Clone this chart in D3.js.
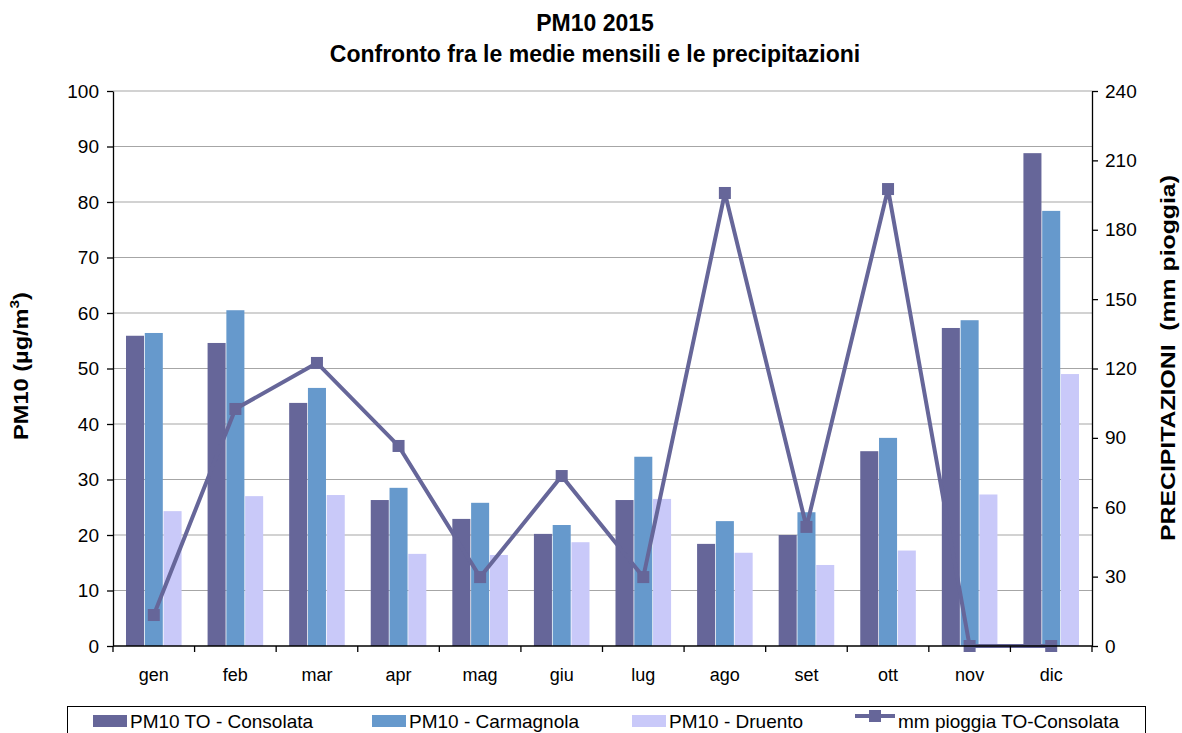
<!DOCTYPE html>
<html>
<head>
<meta charset="utf-8">
<script src="https://cdn.jsdelivr.net/npm/d3@7"></script>
<style>
  body { margin: 0; background: #fff; }
  svg { font-family: "Liberation Sans", Arial, sans-serif; }
</style>
</head>
<body>
<div id="plot"></div>
<script>
// Data
const months = ["gen", "feb", "mar", "apr", "mag", "giu", "lug", "ago", "set", "ott", "nov", "dic"];
const consolata = [55.9, 54.6, 43.8, 26.3, 22.9, 20.2, 26.3, 18.4, 20.0, 35.1, 57.3, 88.8];
const carmagnola = [56.4, 60.5, 46.5, 28.5, 25.8, 21.8, 34.1, 22.5, 24.1, 37.5, 58.7, 78.4];
const druento = [24.3, 27.0, 27.2, 16.6, 16.4, 18.7, 26.5, 16.8, 14.6, 17.2, 27.3, 49.0];
const pioggia = [13.4, 102.5, 122.4, 86.5, 29.8, 73.5, 29.8, 195.9, 51.5, 197.6, 0, 0];
const seriesNames = ["PM10 TO - Consolata", "PM10 - Carmagnola", "PM10 - Druento"];
const lineName = "mm pioggia TO-Consolata";
const leftTicks = [0, 10, 20, 30, 40, 50, 60, 70, 80, 90, 100];
const rightTicks = [0, 30, 60, 90, 120, 150, 180, 210, 240];

const barColors = ["#666699", "#6699CC", "#C9C9F9"];
const lineColor = "#666699";

const width = 1182, height = 733;
const margin = { top: 91, right: 90, bottom: 87, left: 113 };
const innerW = width - margin.left - margin.right;
const innerH = height - margin.top - margin.bottom;

const svg = d3.select("#plot").append("svg")
  .attr("width", width)
  .attr("height", height);

const g = svg.append("g")
  .attr("transform", `translate(${margin.left},${margin.top})`);

// Scales
const x0 = d3.scaleBand().domain(months).range([0, innerW]);
const x1 = d3.scaleBand().domain([0, 1, 2]).range([13, x0.bandwidth() - 13]).paddingInner(0.04);
const yL = d3.scaleLinear().domain([0, 100]).range([innerH, 0]);
const yR = d3.scaleLinear().domain([0, 240]).range([innerH, 0]);

// Gridlines
g.append("g")
  .selectAll("line")
  .data(leftTicks.filter(d => d > 0))
  .join("line")
  .attr("x1", 0).attr("x2", innerW)
  .attr("y1", d => yL(d)).attr("y2", d => yL(d))
  .attr("stroke", "#a6a6a6")
  .attr("stroke-width", 1.2);

// Bars
const barData = [consolata, carmagnola, druento];
months.forEach((m, i) => {
  barData.forEach((s, k) => {
    g.append("rect")
      .attr("x", x0(m) + x1(k))
      .attr("y", yL(s[i]))
      .attr("width", x1.bandwidth())
      .attr("height", innerH - yL(s[i]))
      .attr("fill", barColors[k]);
  });
});

// Rain line
const line = d3.line()
  .x((d, i) => x0(months[i]) + x0.bandwidth() / 2)
  .y(d => yR(d));

g.append("path")
  .datum(pioggia)
  .attr("d", line)
  .attr("fill", "none")
  .attr("stroke", lineColor)
  .attr("stroke-width", 4);

g.selectAll(".marker")
  .data(pioggia)
  .join("rect")
  .attr("class", "marker")
  .attr("x", (d, i) => x0(months[i]) + x0.bandwidth() / 2 - 6)
  .attr("y", d => yR(d) - 6)
  .attr("width", 12)
  .attr("height", 12)
  .attr("fill", lineColor);

// Axes
const axisStyle = sel => {
  sel.selectAll("path, line").attr("stroke", "#000").attr("stroke-width", 1.3);
  sel.selectAll("text").attr("font-size", 19).attr("fill", "#000")
    .attr("font-family", "Liberation Sans, Arial, sans-serif");
};

g.append("g")
  .call(d3.axisLeft(yL).tickValues(leftTicks).tickSize(6).tickSizeOuter(0).tickPadding(8))
  .call(axisStyle);

g.append("g")
  .attr("transform", `translate(${innerW},0)`)
  .call(d3.axisRight(yR).tickValues(rightTicks).tickSize(6).tickSizeOuter(0).tickPadding(7))
  .call(axisStyle);

// Bottom axis: ticks at band boundaries, labels centered
const xAxis = g.append("g").attr("transform", `translate(0,${innerH})`);
xAxis.append("line")
  .attr("x1", 0).attr("x2", innerW)
  .attr("stroke", "#000").attr("stroke-width", 1.3);
xAxis.selectAll(".xt")
  .data(d3.range(months.length + 1))
  .join("line")
  .attr("class", "xt")
  .attr("x1", i => i * x0.bandwidth())
  .attr("x2", i => i * x0.bandwidth())
  .attr("y1", 0).attr("y2", 6)
  .attr("stroke", "#000").attr("stroke-width", 1.3);
xAxis.selectAll(".xl")
  .data(months)
  .join("text")
  .attr("class", "xl")
  .attr("x", d => x0(d) + x0.bandwidth() / 2)
  .attr("y", 35)
  .attr("text-anchor", "middle")
  .attr("font-size", 18)
  .text(d => d);

// Titles
svg.append("text")
  .attr("x", 595).attr("y", 31)
  .attr("text-anchor", "middle")
  .attr("font-size", 23).attr("font-weight", "bold")
  .text("PM10 2015");
svg.append("text")
  .attr("x", 595).attr("y", 62)
  .attr("text-anchor", "middle")
  .attr("font-size", 23).attr("font-weight", "bold")
  .text("Confronto fra le medie mensili e le precipitazioni");

// Left axis title
const lt = svg.append("text")
  .attr("transform", "translate(28,366) rotate(-90) scale(1.18,1)")
  .attr("text-anchor", "middle")
  .attr("font-size", 20).attr("font-weight", "bold");
lt.append("tspan").text("PM10 (µg/m");
lt.append("tspan").attr("font-size", 13).attr("dy", -9).text("3");
lt.append("tspan").attr("dy", 9).text(")");

// Right axis title
svg.append("text")
  .attr("transform", "translate(1175,358) rotate(-90) scale(1.24,1)")
  .attr("text-anchor", "middle")
  .attr("font-size", 20).attr("font-weight", "bold")
  .style("white-space", "pre")
  .text("PRECIPITAZIONI  (mm pioggia)");

// Legend
const legend = svg.append("g");
legend.append("rect")
  .attr("x", 67.5).attr("y", 706.5)
  .attr("width", 1078).attr("height", 40)
  .attr("fill", "none").attr("stroke", "#000").attr("stroke-width", 1);

const legendX = [93, 372, 632];
seriesNames.forEach((name, k) => {
  legend.append("rect")
    .attr("x", legendX[k]).attr("y", 715)
    .attr("width", 34).attr("height", 12)
    .attr("fill", barColors[k]);
  legend.append("text")
    .attr("x", legendX[k] + 37).attr("y", 728)
    .attr("font-size", 19)
    .text(name);
});
legend.append("line")
  .attr("x1", 855).attr("x2", 895)
  .attr("y1", 716).attr("y2", 716)
  .attr("stroke", lineColor).attr("stroke-width", 4);
legend.append("rect")
  .attr("x", 869).attr("y", 710).attr("width", 12).attr("height", 12)
  .attr("fill", lineColor);
legend.append("text")
  .attr("x", 898).attr("y", 728)
  .attr("font-size", 19)
  .text(lineName);
</script>
</body>
</html>
